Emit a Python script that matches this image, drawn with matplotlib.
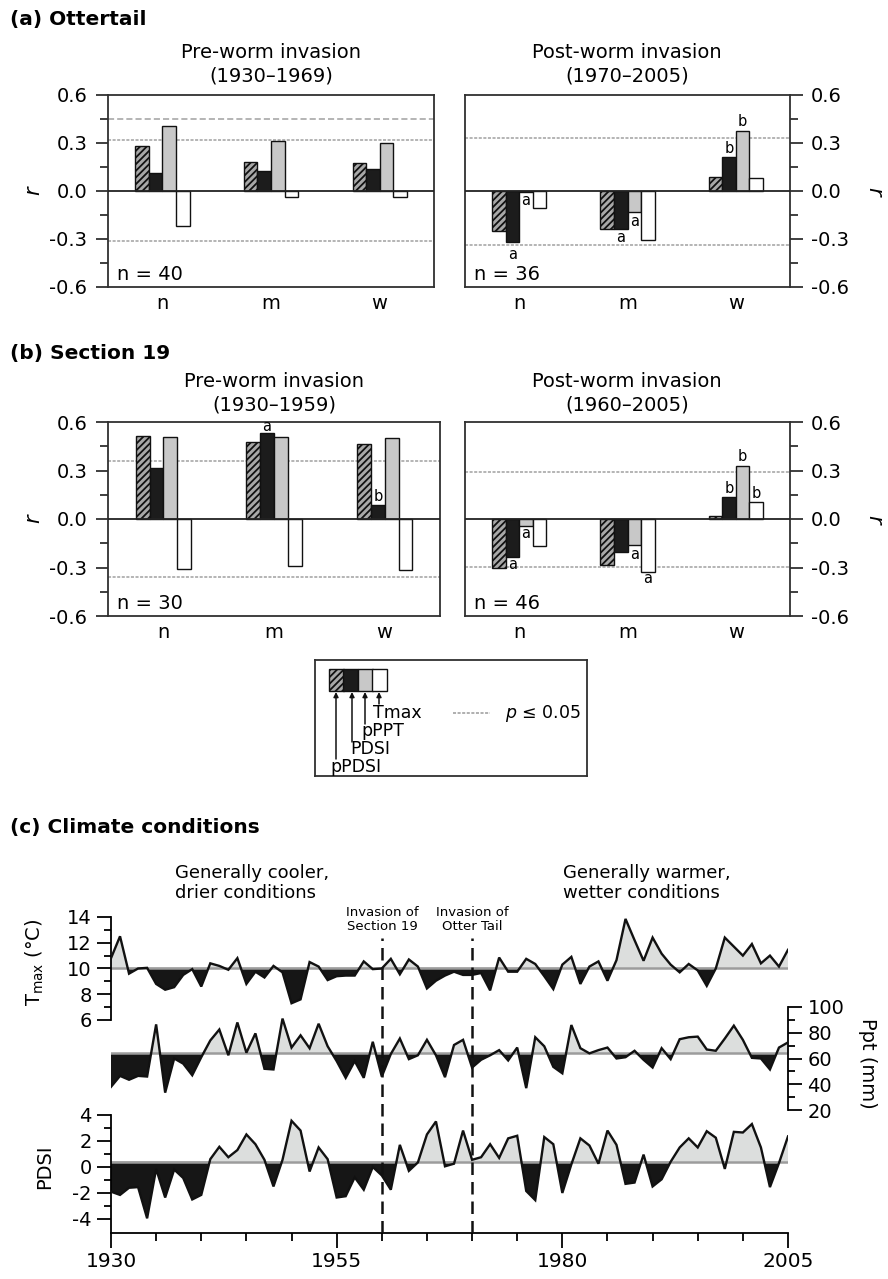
import numpy as np
import matplotlib
matplotlib.use('Agg')
import matplotlib.pyplot as plt
from matplotlib.ticker import FixedLocator, FormatStrFormatter

plt.rcParams['font.family'] = ['DejaVu Sans']
plt.rcParams['axes.unicode_minus'] = False
plt.rcParams['hatch.linewidth'] = 1.3
plt.rcParams['mathtext.fontset'] = 'dejavusans'

# ---------------- data: correlation bars ----------------
groups = ['n', 'm', 'w']
series = ['pPDSI', 'PDSI', 'pPPT', 'Tmax']

# rows: pPDSI, PDSI, pPPT, Tmax ; columns: n, m, w
a_pre = [[0.28, 0.18, 0.175], [0.11, 0.125, 0.14], [0.405, 0.31, 0.30], [-0.22, -0.035, -0.038]]
a_post = [[-0.25, -0.235, 0.09], [-0.32, -0.235, 0.21], [-0.005, -0.133, 0.378], [-0.108, -0.305, 0.081]]
b_pre = [[0.514, 0.479, 0.465], [0.315, 0.535, 0.088], [0.51, 0.506, 0.498], [-0.309, -0.292, -0.313]]
b_post = [[-0.30, -0.284, 0.017], [-0.236, -0.205, 0.135], [-0.046, -0.16, 0.327], [-0.17, -0.33, 0.106]]

a_pre_sig = [0.45, 0.32, -0.315]
a_post_sig = [0.333, -0.337]
b_pre_sig = [0.36, -0.36]
b_post_sig = [0.29, -0.294]

# letters: (group index, series index, r position, letter)
a_pre_letters = []
a_post_letters = [(0, 1, -0.40, 'a'), (0, 2, -0.062, 'a'), (1, 1, -0.29, 'a'), (1, 2, -0.19, 'a'),
                  (2, 1, 0.265, 'b'), (2, 2, 0.432, 'b')]
b_pre_letters = [(1, 1, 0.575, 'a'), (2, 1, 0.14, 'b')]
b_post_letters = [(0, 1, -0.284, 'a'), (0, 2, -0.091, 'a'), (1, 2, -0.217, 'a'), (1, 3, -0.37, 'a'),
                  (2, 1, 0.188, 'b'), (2, 2, 0.385, 'b'), (2, 3, 0.157, 'b')]

n_labels = ['n = 40', 'n = 36', 'n = 30', 'n = 46']
titles = ['Pre-worm invasion\n(1930\u20131969)', 'Post-worm invasion\n(1970\u20132005)',
          'Pre-worm invasion\n(1930\u20131959)', 'Post-worm invasion\n(1960\u20132005)']

# ---------------- data: climate ----------------
years = np.arange(1930, 2006)
tmax = [10.8, 12.5, 9.6, 10.0, 10.05, 8.8, 8.35, 8.55, 9.5, 9.95,
        8.6, 10.4, 10.2, 9.9, 10.8, 8.8, 9.75, 9.3, 10.2, 9.7,
        7.3, 7.6, 10.5, 10.15, 9.1, 9.4, 9.45, 9.45, 10.55, 9.95,
        10.0, 10.75, 9.55, 10.7, 10.15, 8.45, 9.05, 9.45, 9.75, 9.5,
        9.5, 9.65, 8.3, 10.85, 9.75, 9.75, 10.75, 10.35, 9.4, 8.4,
        10.3, 10.9, 8.8, 10.15, 10.55, 9.05, 10.65, 13.85, 12.2, 10.6,
        12.4, 11.15, 10.3, 9.7, 10.35, 9.85, 8.65, 10.0, 12.4, 11.7,
        11.0, 11.9, 10.4, 11.0, 10.15, 11.45]
ppt = [38, 46.5, 43.5, 46.5, 46, 86.5, 33.5, 60, 56, 47,
       61, 74, 82.5, 62.5, 88, 64.5, 79.5, 52, 51.5, 91,
       68.5, 78, 68, 87, 69.5, 58, 45, 58, 45, 73,
       46, 63.5, 75.5, 59.5, 62.5, 74.5, 62.5, 45.5, 70.5, 74.5,
       53, 59, 62.5, 66.5, 58.5, 68.5, 37, 76.5, 69.5, 53.5,
       48.5, 86, 68, 64, 66.5, 68.5, 60, 61, 66, 59,
       53, 68, 59.5, 75, 76.5, 77, 67, 66, 75.5, 85.5,
       74.5, 60.5, 60, 51.5, 68.5, 72.5]
pdsi = [-1.9, -2.15, -1.6, -1.55, -3.95, -0.15, -2.35, -0.2, -0.85, -2.5,
        -2.15, 0.6, 1.55, 0.75, 1.3, 2.5, 1.75, 0.55, -1.5, 0.55,
        3.55, 2.8, -0.35, 1.5, 0.6, -2.35, -2.25, -0.8, -1.75, 0.0,
        -0.65, -1.75, 1.7, -0.3, 0.35, 2.5, 3.5, 0.05, 0.25, 2.8,
        0.55, 0.75, 1.75, 0.7, 2.2, 2.4, -1.85, -2.55, 2.3, 1.75,
        -2.0, 0.2, 2.2, 1.65, 0.25, 2.8, 1.7, -1.3, -1.2, 0.95,
        -1.5, -0.95, 0.4, 1.5, 2.2, 1.5, 2.75, 2.25, -0.15, 2.7,
        2.65, 3.3, 1.5, -1.55, 0.3, 2.35]
baselines = [10.05, 64.0, 0.4]   # Tmax, Ppt, PDSI
invasions = [1960, 1970]
invasion_labels = ['Invasion of\nSection 19', 'Invasion of\nOtter Tail']

# ---------------- figure ----------------
W, H = 888, 1279
fig = plt.figure(figsize=(W / 100, H / 100), dpi=100)


def px_rect(x0, y0, x1, y1):
    return [x0 / W, 1 - y1 / H, (x1 - x0) / W, (y1 - y0) / H]


def ftext(x, y, s, **kw):
    return fig.text(x / W, 1 - y / H, s, **kw)


bar_face = ['#a8a8a8', '#1c1c1c', '#c8c8c8', 'white']
bar_hatch = ['/////', None, None, None]
bw = 0.125
frame_col = '#303030'


def bar_panel(rect, data, sig, letters, nlab, right=False):
    ax = fig.add_axes(rect)
    x = np.arange(len(groups))
    for j in range(len(series)):
        ax.bar(x + (j - 1.5) * bw, data[j], width=bw, facecolor=bar_face[j],
               edgecolor='#111111', linewidth=1.0, hatch=bar_hatch[j], zorder=3)
    for k, s in enumerate(sig):
        ls = (0, (4, 2)) if (k == 0 and len(sig) == 3) else (0, (2, 1))
        ax.axhline(s, color='#a0a0a0', lw=1.1, ls=ls, zorder=1)
    ax.axhline(0, color='#222222', lw=1.3, zorder=4)
    for gi, sj, yv, lt in letters:
        ax.text(gi + (sj - 1.5) * bw, yv, lt, ha='center', va='center', fontsize=10.5, zorder=5)
    ax.set_xlim(-0.5, 2.5)
    ax.set_ylim(-0.6, 0.6)
    ax.yaxis.set_major_locator(FixedLocator([-0.6, -0.3, 0.0, 0.3, 0.6]))
    ax.yaxis.set_minor_locator(FixedLocator([-0.45, -0.15, 0.15, 0.45]))
    ax.yaxis.set_major_formatter(FormatStrFormatter('%.1f'))
    ax.set_xticks(x)
    ax.set_xticklabels(groups, fontsize=14)
    ax.tick_params(axis='x', length=0, pad=5)
    ax.tick_params(axis='y', which='major', length=9, width=1.3, labelsize=14, pad=6, color=frame_col)
    ax.tick_params(axis='y', which='minor', length=6, width=1.3, color=frame_col)
    if right:
        ax.yaxis.tick_right()
        ax.tick_params(axis='y', which='both', left=False, right=True)
    for sp in ax.spines.values():
        sp.set_color(frame_col)
        sp.set_linewidth(1.3)
    ax.text(0.027, 0.065, nlab, transform=ax.transAxes, fontsize=14, ha='left', va='center')
    return ax


bar_panel(px_rect(108, 95, 434, 287), a_pre, a_pre_sig, a_pre_letters, n_labels[0])
bar_panel(px_rect(465, 95, 790, 287), a_post, a_post_sig, a_post_letters, n_labels[1], right=True)
bar_panel(px_rect(108, 422, 440, 616), b_pre, b_pre_sig, b_pre_letters, n_labels[2])
bar_panel(px_rect(465, 422, 790, 616), b_post, b_post_sig, b_post_letters, n_labels[3], right=True)

ftext(10, 20, '(a) Ottertail', fontsize=14.5, fontweight='bold', ha='left', va='center')
ftext(10, 353, '(b) Section 19', fontsize=14.5, fontweight='bold', ha='left', va='center')
ftext(10, 828, '(c) Climate conditions', fontsize=14.5, fontweight='bold', ha='left', va='center')

ftext(271, 64, titles[0], fontsize=14, ha='center', va='center', linespacing=1.3)
ftext(627, 64, titles[1], fontsize=14, ha='center', va='center', linespacing=1.3)
ftext(274, 393, titles[2], fontsize=14, ha='center', va='center', linespacing=1.3)
ftext(627, 393, titles[3], fontsize=14, ha='center', va='center', linespacing=1.3)

for yy in (191, 519):
    ftext(33, yy, 'r', fontsize=15, style='italic', rotation=90, ha='center', va='center')
    ftext(874, yy, 'r', fontsize=15, style='italic', rotation=270, ha='center', va='center')

# ---------------- legend box ----------------
lg = fig.add_axes(px_rect(315, 660, 587, 776))
lg.set_xlim(0, 272)
lg.set_ylim(116, 0)
lg.set_xticks([])
lg.set_yticks([])
for sp in lg.spines.values():
    sp.set_color(frame_col)
    sp.set_linewidth(1.3)
sq_x = [14, 28, 43, 57]
for j in range(4):
    lg.add_patch(plt.Rectangle((sq_x[j], 9), 14.5, 22, facecolor=bar_face[j], edgecolor='#111111',
                               lw=1.0, hatch=bar_hatch[j]))
arrow_x = [21, 37, 50, 64]
arrow_from = [99, 82, 64, 44]
for xa, yf in zip(arrow_x, arrow_from):
    lg.annotate('', xy=(xa, 32), xytext=(xa, yf),
                arrowprops=dict(arrowstyle='-|>', lw=1.1, color='#111111', mutation_scale=7,
                                shrinkA=0, shrinkB=0))
lab_pos = [(15, 107), (35, 89), (46, 71), (58, 53)]
for (lx, ly), name in zip(lab_pos, series):
    lg.text(lx, ly, name, fontsize=12.5, ha='left', va='center')
lg.plot([138, 175], [53, 53], color='#9a9a9a', lw=1.1, ls=(0, (2, 1)))
lg.text(190, 53, '$p$ \u2264 0.05', fontsize=12.5, ha='left', va='center')

# ---------------- climate panel ----------------
rect_c = px_rect(111, 905, 788, 1233)
ax_t = fig.add_axes(rect_c)
ax_p = fig.add_axes(rect_c, sharex=ax_t)
ax_d = fig.add_axes(rect_c, sharex=ax_t)
for a in (ax_t, ax_p, ax_d):
    a.patch.set_visible(False)
    for sp in a.spines.values():
        sp.set_visible(False)

lims = [(-10.54, 14.93), (-75.5, 179.2), (-5.08, 20.15)]
for a, vals, base, lim in zip((ax_t, ax_p, ax_d), (tmax, ppt, pdsi), baselines, lims):
    v = np.array(vals, dtype=float)
    a.fill_between(years, v, base, where=v >= base, interpolate=True, facecolor='#dcdedd', lw=0, zorder=1)
    a.fill_between(years, v, base, where=v <= base, interpolate=True, facecolor='#161616', lw=0, zorder=1)
    a.axhline(base, color='#9c9c9c', lw=1.8, zorder=2)
    a.plot(years, v, color='#111111', lw=1.7, zorder=3, solid_joinstyle='miter')
    a.set_ylim(*lim)
ax_t.set_xlim(1930, 2005)

# Tmax axis (left, upper)
ax_t.spines['left'].set_visible(True)
ax_t.spines['left'].set_bounds(6, 14)
ax_t.yaxis.set_major_locator(FixedLocator([6, 8, 10, 12, 14]))
ax_t.yaxis.set_minor_locator(FixedLocator([7, 9, 11, 13]))
ax_t.tick_params(axis='x', which='both', bottom=False, labelbottom=False)
ax_t.tick_params(axis='y', which='major', length=10, width=1.3, labelsize=14, pad=4)
ax_t.tick_params(axis='y', which='minor', length=5, width=1.3)

# Ppt axis (right, middle)
ax_p.spines['right'].set_visible(True)
ax_p.spines['right'].set_bounds(20, 100)
ax_p.yaxis.tick_right()
ax_p.yaxis.set_major_locator(FixedLocator([20, 40, 60, 80, 100]))
ax_p.yaxis.set_minor_locator(FixedLocator([30, 50, 70, 90]))
ax_p.tick_params(axis='x', which='both', bottom=False, labelbottom=False)
ax_p.tick_params(axis='y', which='major', length=10, width=1.3, labelsize=14, pad=4)
ax_p.tick_params(axis='y', which='minor', length=5, width=1.3)

# PDSI axis (left, lower) + x axis
ax_d.spines['left'].set_visible(True)
ax_d.spines['left'].set_bounds(lims[2][0], 4)
ax_d.spines['bottom'].set_visible(True)
ax_d.yaxis.set_major_locator(FixedLocator([-4, -2, 0, 2, 4]))
ax_d.yaxis.set_minor_locator(FixedLocator([-3, -1, 1, 3]))
ax_d.tick_params(axis='y', which='major', length=10, width=1.3, labelsize=14, pad=4)
ax_d.tick_params(axis='y', which='minor', length=5, width=1.3)
ax_d.xaxis.set_major_locator(FixedLocator([1930, 1955, 1980, 2005]))
ax_d.xaxis.set_minor_locator(FixedLocator(list(range(1935, 2005, 5))))
ax_d.tick_params(axis='x', which='major', length=11, width=1.3, labelsize=14.5, pad=3)
ax_d.tick_params(axis='x', which='minor', length=6, width=1.3)
for sp in ('left', 'bottom'):
    ax_d.spines[sp].set_linewidth(1.3)
ax_t.spines['left'].set_linewidth(1.3)
ax_p.spines['right'].set_linewidth(1.3)

frac_top = (1233 - 938) / (1233 - 905)
for yr in invasions:
    ax_d.axvline(yr, ymin=0, ymax=frac_top, color='#111111', lw=1.8, ls=(0, (5, 2.8)), zorder=4)
inv_px = [382, 472]
for xp, lab in zip(inv_px, invasion_labels):
    ftext(xp, 920, lab, fontsize=9.5, ha='center', va='center', linespacing=1.1)

ftext(175, 883, 'Generally cooler,\ndrier conditions', fontsize=13, ha='left', va='center', linespacing=1.2)
ftext(563, 883, 'Generally warmer,\nwetter conditions', fontsize=13, ha='left', va='center', linespacing=1.2)

ftext(35, 962, 'T$_{\\mathregular{max}}$ (\u00b0C)', fontsize=14,
      rotation=90, ha='center', va='center')
ftext(45, 1167, 'PDSI', fontsize=14, rotation=90, ha='center', va='center')
ftext(867, 1063, 'Ppt (mm)', fontsize=14, rotation=270, ha='center', va='center')

fig.savefig('out.png', dpi=100)
